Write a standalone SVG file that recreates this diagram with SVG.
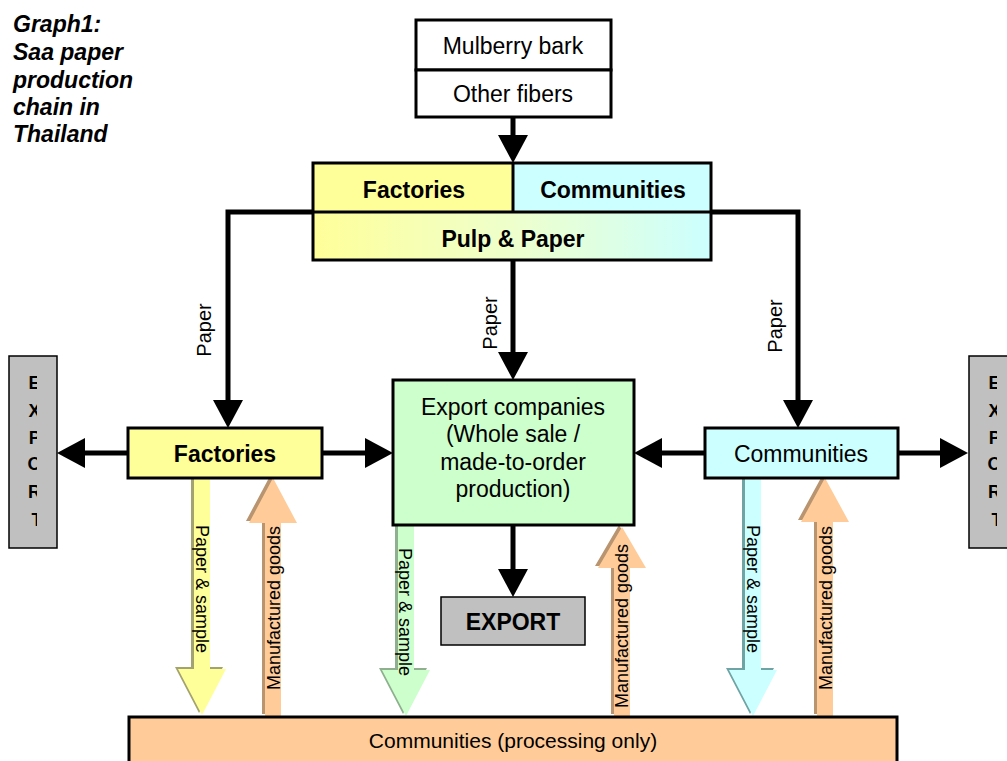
<svg xmlns="http://www.w3.org/2000/svg" width="1007" height="761" viewBox="0 0 1007 761">
  <style>
    text { font-family: "Liberation Sans", Arial, sans-serif; fill: #000; }
    .box { stroke: #000; stroke-width: 3; }
    .thin { stroke: #000; stroke-width: 1.5; }
    .lbl { font-size: 23px; text-anchor: middle; }
    .b { font-weight: bold; }
    .side { font-size: 18px; font-weight: bold; text-anchor: middle; }
    .flow { font-size: 18px; text-anchor: middle; }
    .paper { font-size: 20px; text-anchor: middle; }
    .conn { fill: none; stroke: #000; stroke-width: 5; marker-end: url(#head); }
  </style>
  <defs>
    <marker id="head" markerUnits="userSpaceOnUse" markerWidth="28" markerHeight="30" viewBox="0 0 28 30" refX="20" refY="15" orient="auto">
      <path d="M0,0 L28,15 L0,30 Z" fill="#000"/>
    </marker>
    <linearGradient id="pulpGrad" x1="0" y1="0" x2="1" y2="0">
      <stop offset="0" stop-color="#FFFF99"/>
      <stop offset="0.5" stop-color="#EEFFCC"/>
      <stop offset="1" stop-color="#CCFFFF"/>
    </linearGradient>
    <!-- narrow text frames in the side export boxes cut the letters -->
    <clipPath id="clipLeft"><rect x="9" y="356" width="28" height="192"/></clipPath>
    <clipPath id="clipRight"><rect x="969" y="356" width="28" height="192"/></clipPath>
  </defs>

  <!-- Title -->
  <g id="title">
    <text x="13" y="32" font-size="23" font-weight="bold" font-style="italic">Graph1:</text>
    <text x="13" y="60" font-size="23" font-weight="bold" font-style="italic">Saa paper</text>
    <text x="13" y="88" font-size="23" font-weight="bold" font-style="italic">production</text>
    <text x="13" y="115" font-size="23" font-weight="bold" font-style="italic">chain in</text>
    <text x="13" y="142" font-size="23" font-weight="bold" font-style="italic">Thailand</text>
  </g>

  <!-- Connectors -->
  <g id="connectors">
    <line class="conn" x1="513" y1="117" x2="513" y2="155"/>
    <polyline class="conn" points="313,212 228,212 228,420"/>
    <polyline class="conn" points="711,212 798,212 798,420"/>
    <line class="conn" x1="513" y1="260" x2="513" y2="372"/>
    <line class="conn" x1="128" y1="453" x2="65" y2="453"/>
    <line class="conn" x1="322" y1="453" x2="385" y2="453"/>
    <line class="conn" x1="705" y1="453" x2="642" y2="453"/>
    <line class="conn" x1="898" y1="453" x2="960" y2="453"/>
    <line class="conn" x1="513" y1="525" x2="513" y2="589"/>

    <!-- block arrows: Factories <-> processing communities -->
    <g id="flow-fac-down">
      <polygon points="191,476 207,476 207,667 223,667 199,713 175,667 191,667" fill="#A3A370"/>
      <polygon points="194,478 210,478 210,669 226,669 202,715 178,669 194,669" fill="#FFFF99"/>
      <text class="flow" transform="translate(196,589) rotate(90)">Paper &amp; sample</text>
    </g>
    <g id="flow-fac-up">
      <polygon points="262,714 262,521 246,521 270,476 294,521 278,521 278,714" fill="#B89470"/>
      <polygon points="265,716 265,523 249,523 273,478 297,523 281,523 281,716" fill="#FFCC99"/>
      <text class="flow" transform="translate(280,608) rotate(-90)">Manufactured goods</text>
    </g>
    <!-- block arrows: Export companies <-> processing communities -->
    <g id="flow-exp-down">
      <polygon points="395,523 411,523 411,668 427,668 403,714 379,668 395,668" fill="#8FB08F"/>
      <polygon points="398,525 414,525 414,670 430,670 406,716 382,670 398,670" fill="#CCFFCC"/>
      <text class="flow" transform="translate(399,612) rotate(90)">Paper &amp; sample</text>
    </g>
    <g id="flow-exp-up">
      <polygon points="611,714 611,566 595,566 619,525 643,566 627,566 627,714" fill="#B89470"/>
      <polygon points="614,716 614,568 598,568 622,527 646,568 630,568 630,716" fill="#FFCC99"/>
      <text class="flow" transform="translate(628,626) rotate(-90)">Manufactured goods</text>
    </g>
    <!-- block arrows: Communities <-> processing communities -->
    <g id="flow-com-down">
      <polygon points="742,476 758,476 758,668 774,668 750,714 726,668 742,668" fill="#70A3A3"/>
      <polygon points="745,478 761,478 761,670 777,670 753,716 729,670 745,670" fill="#CCFFFF"/>
      <text class="flow" transform="translate(747,589) rotate(90)">Paper &amp; sample</text>
    </g>
    <g id="flow-com-up">
      <polygon points="814,714 814,520 798,520 822,476 846,520 830,520 830,714" fill="#B89470"/>
      <polygon points="817,716 817,522 801,522 825,478 849,522 833,522 833,716" fill="#FFCC99"/>
      <text class="flow" transform="translate(832,608) rotate(-90)">Manufactured goods</text>
    </g>

    <!-- Paper labels -->
    <text class="paper" transform="translate(211,330) rotate(-90)">Paper</text>
    <text class="paper" transform="translate(497,323) rotate(-90)">Paper</text>
    <text class="paper" transform="translate(782,326) rotate(-90)">Paper</text>
  </g>

  <!-- Raw materials -->
  <g id="raw-materials">
    <rect class="box" x="416" y="20" width="195" height="50" fill="#FFFFFF"/>
    <rect class="box" x="416" y="70" width="195" height="47" fill="#FFFFFF"/>
    <text class="lbl" x="513" y="54">Mulberry bark</text>
    <text class="lbl" x="513" y="102">Other fibers</text>
  </g>

  <!-- Pulp & Paper producers -->
  <g id="pulp-paper">
    <rect x="313" y="163" width="200" height="49" fill="#FFFF99"/>
    <rect x="513" y="163" width="198" height="49" fill="#CCFFFF"/>
    <rect x="313" y="212" width="398" height="48" fill="url(#pulpGrad)"/>
    <rect class="box" x="313" y="163" width="398" height="97" fill="none"/>
    <line x1="313" y1="212" x2="711" y2="212" stroke="#000" stroke-width="3"/>
    <line x1="513" y1="163" x2="513" y2="212" stroke="#000" stroke-width="3"/>
    <text class="lbl b" x="414" y="198">Factories</text>
    <text class="lbl b" x="613" y="198">Communities</text>
    <text class="lbl b" x="513" y="247">Pulp &amp; Paper</text>
  </g>

  <!-- Factories -->
  <g id="factories">
    <rect class="box" x="128" y="428" width="194" height="50" fill="#FFFF99"/>
    <text class="lbl b" x="225" y="462">Factories</text>
  </g>

  <!-- Communities -->
  <g id="communities">
    <rect class="box" x="705" y="428" width="193" height="50" fill="#CCFFFF"/>
    <text class="lbl" x="801" y="462">Communities</text>
  </g>

  <!-- Export companies -->
  <g id="export-companies">
    <rect class="box" x="393" y="380" width="241" height="145" fill="#CCFFCC"/>
    <text class="lbl" x="513" y="415">Export companies</text>
    <text class="lbl" x="513" y="442">(Whole sale /</text>
    <text class="lbl" x="513" y="470">made-to-order</text>
    <text class="lbl" x="513" y="497">production)</text>
  </g>

  <!-- Export (centre) -->
  <g id="export-center">
    <rect class="thin" x="441" y="597" width="144" height="48" fill="#C0C0C0"/>
    <text class="lbl b" x="513" y="630">EXPORT</text>
  </g>

  <!-- Export (left side) -->
  <g id="export-left">
    <rect class="thin" x="9" y="356" width="48" height="192" fill="#C0C0C0"/>
    <text class="side" clip-path="url(#clipLeft)">
      <tspan x="37" y="389">E</tspan>
      <tspan x="37" y="417">X</tspan>
      <tspan x="37" y="444">P</tspan>
      <tspan x="37" y="470">O</tspan>
      <tspan x="37" y="498">R</tspan>
      <tspan x="37" y="526">T</tspan>
    </text>
  </g>

  <!-- Export (right side) -->
  <g id="export-right">
    <rect class="thin" x="969" y="356" width="48" height="192" fill="#C0C0C0"/>
    <text class="side" clip-path="url(#clipRight)">
      <tspan x="997" y="389">E</tspan>
      <tspan x="997" y="417">X</tspan>
      <tspan x="997" y="444">P</tspan>
      <tspan x="997" y="470">O</tspan>
      <tspan x="997" y="498">R</tspan>
      <tspan x="997" y="526">T</tspan>
    </text>
  </g>

  <!-- Processing communities -->
  <g id="processing">
    <rect class="box" x="129" y="717" width="768" height="60" fill="#FFCC99"/>
    <text x="513" y="748" font-size="21" text-anchor="middle">Communities (processing only)</text>
  </g>
</svg>
